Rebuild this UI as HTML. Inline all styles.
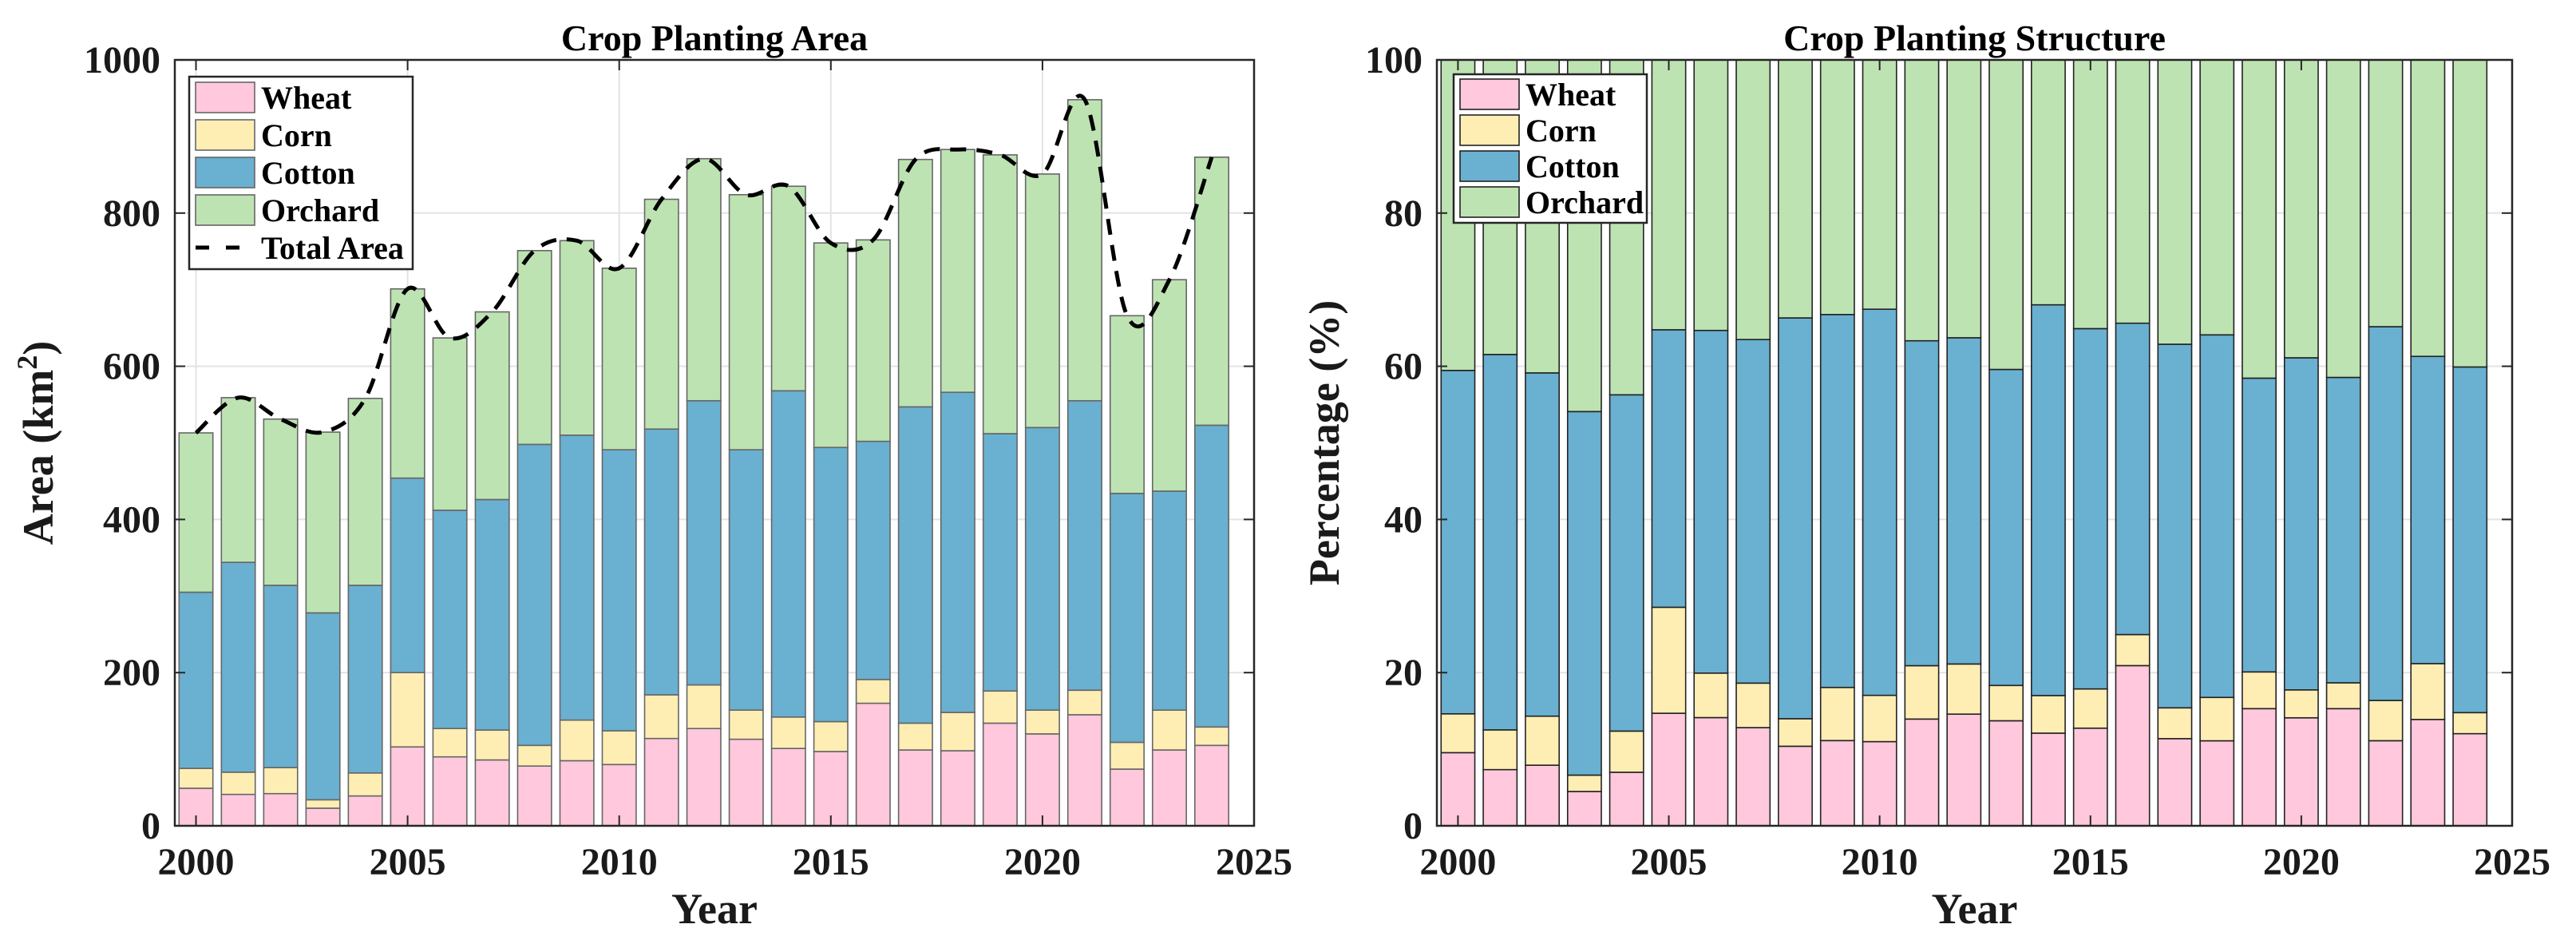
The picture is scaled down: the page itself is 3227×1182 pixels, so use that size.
<!DOCTYPE html>
<html><head><meta charset="utf-8">
<style>
html,body{margin:0;padding:0;background:#fff;}
svg{display:block;font-family:"Liberation Serif",serif;font-weight:bold;}
</style></head>
<body>
<svg id="fig" width="3227" height="1182" viewBox="0 0 3227 1182" xmlns="http://www.w3.org/2000/svg"></svg>
<script>
const years = [2000,2001,2002,2003,2004,2005,2006,2007,2008,2009,2010,2011,2012,2013,2014,2015,2016,2017,2018,2019,2020,2021,2022,2023,2024];
const wheat = [49,41,42,23,39,103,90,86,78,85,80,114,127,113,101,97,160,99,98,134,120,145,74,99,105];
const corn = [26,29,34,11,30,97,37,39,27,53,44,57,57,38,41,39,31,35,50,42,31,32,35,52,24];
const cotton = [230,274,238,244,245,254,285,301,393,372,367,347,371,340,426,358,311,413,418,336,369,378,325,286,394];
const orchard = [208,215,217,236,244,247,225,245,253,254,237,300,316,333,267,267,263,323,317,364,331,393,232,276,350];
const yTicksArea = [0,200,400,600,800,1000];
const yTicksPct = [0,20,40,60,80,100];
const xTicks = [2000,2005,2010,2015,2020,2025];
const seriesNames = ['Wheat','Corn','Cotton','Orchard'];

const colors = ['#FFC8DC','#FFEEB4','#6AB0D0','#BEE3B3'];
const NS = 'http://www.w3.org/2000/svg';
const svg = document.getElementById('fig');
function mk(tag, attrs, parent){
  const e = document.createElementNS(NS, tag);
  for (const k in attrs) e.setAttribute(k, attrs[k]);
  (parent||svg).appendChild(e);
  return e;
}
function txt(s, attrs, parent){ const e = mk('text', attrs, parent); e.textContent = s; return e; }

function panel(cfg){
  const g = mk('g', {});
  
  
  const {L,R,T,B,ymax} = cfg;
  const x = v => L + (v - 1999.5) / (2025 - 1999.5) * (R - L);
  const y = v => B - v / ymax * (B - T);
  const bw = 0.8 * (x(1) - x(0));
  // grid
  const grid = mk('g', {}, g);
  
  
  xTicks.forEach(t => mk('line', {x1:x(t),x2:x(t),y1:T,y2:B,stroke:'#e3e3e3','stroke-width':2}, grid));
  cfg.yt.forEach(t => mk('line', {x1:L,x2:R,y1:y(t),y2:y(t),stroke:'#e3e3e3','stroke-width':2}, grid));
  // bars
  const data = cfg.data;
  years.forEach((yr, i) => {
    let base = 0;
    data.forEach((ser, s) => {
      const v = ser[i];
      const r = mk('rect', {x:x(yr)-bw/2, y:y(base+v), width:bw, height:y(base)-y(base+v), fill:colors[s], stroke:cfg.edge, 'stroke-width':1.6}, g);
      
      
      base += v;
    });
  });
  // total line
  if (cfg.total) {
    const pts = years.map((yr,i) => [x(yr), y(cfg.total[i])]);
    let d = 'M' + pts[0][0] + ',' + pts[0][1];
    for (let i = 0; i < pts.length - 1; i++) {
      const p0 = pts[Math.max(0,i-1)], p1 = pts[i], p2 = pts[i+1], p3 = pts[Math.min(pts.length-1,i+2)];
      const c1 = [p1[0]+(p2[0]-p0[0])/6, p1[1]+(p2[1]-p0[1])/6];
      const c2 = [p2[0]-(p3[0]-p1[0])/6, p2[1]-(p3[1]-p1[1])/6];
      d += ' C' + c1[0] + ',' + c1[1] + ' ' + c2[0] + ',' + c2[1] + ' ' + p2[0] + ',' + p2[1];
    }
    const pl = mk('path', {d:d, fill:'none', stroke:'#000', 'stroke-width':5, 'stroke-dasharray':'20 13'}, g);
    
    
  }
  // axes box
  const box = mk('rect', {x:L,y:T,width:R-L,height:B-T,fill:'none',stroke:'#262626','stroke-width':2.5}, g);
  
  
  const tl = 13;
  xTicks.forEach(t => {
    mk('line', {x1:x(t),x2:x(t),y1:B,y2:B-tl,stroke:'#262626','stroke-width':2}, g);
    mk('line', {x1:x(t),x2:x(t),y1:T,y2:T+tl,stroke:'#262626','stroke-width':2}, g);
    const lb = txt(String(t), {x:x(t), y:B+61, 'font-size':48, 'text-anchor':'middle', fill:'#1a1a1a'}, g);
    
    
  });
  cfg.yt.forEach(t => {
    mk('line', {x1:L,x2:L+tl,y1:y(t),y2:y(t),stroke:'#262626','stroke-width':2}, g);
    mk('line', {x1:R,x2:R-tl,y1:y(t),y2:y(t),stroke:'#262626','stroke-width':2}, g);
    const lb = txt(String(t), {x:L-18, y:y(t)+16, 'font-size':48, 'text-anchor':'end', fill:'#1a1a1a'}, g);
    
    
  });
  const ti = txt(cfg.title, {x:(L+R)/2, y:T-12, 'font-size':46, 'text-anchor':'middle', fill:'#000'}, g);
  
  
  const xl = txt('Year', {x:(L+R)/2, y:B+122, 'font-size':54, 'text-anchor':'middle', fill:'#1a1a1a'}, g);
  
  
  const yl = mk('text', {x:0, y:0, 'font-size':54, 'text-anchor':'middle', fill:'#1a1a1a', transform:'translate(' + cfg.ylx + ',' + ((T+B)/2) + ') rotate(-90)'}, g);
  
  
  yl.innerHTML = cfg.ylabel;
  // legend
  const lg = mk('g', {}, g);
  
  
  const lgc = cfg.legend;
  mk('rect', {x:lgc.x, y:lgc.y, width:lgc.w, height:lgc.h, fill:'#fff', stroke:'#262626', 'stroke-width':2.5}, lg);
  const names = cfg.total ? seriesNames.concat(['Total Area']) : seriesNames;
  names.forEach((n, i) => {
    const cy = lgc.y + lgc.first + i * lgc.step;
    const en = mk('g', {}, lg);
    
    
    if (i < 4) mk('rect', {x:lgc.x+8, y:cy-19, width:74, height:38, fill:colors[i], stroke:cfg.edge, 'stroke-width':1.6}, en);
    else mk('line', {x1:lgc.x+8, x2:lgc.x+82, y1:cy, y2:cy, stroke:'#000', 'stroke-width':5, 'stroke-dasharray':'17 21'}, en);
    txt(n, {x:lgc.x+90, y:cy+14, 'font-size':40, fill:'#000'}, en);
  });
}

const total = years.map((_, i) => wheat[i] + corn[i] + cotton[i] + orchard[i]);
const pct = [wheat, corn, cotton, orchard].map(s => s.map((v, i) => v / total[i] * 100));

panel({name:'area-chart', L:219, R:1571, T:75, B:1034, ymax:1000, yt:yTicksArea, edge:'#666',
  data:[wheat, corn, cotton, orchard], total:total, title:'Crop Planting Area',
  ylabel:'Area (km<tspan baseline-shift="super" font-size="36">2</tspan>)', ylx:66,
  legend:{x:237, y:96, w:280, h:241, first:26, step:47}});
panel({name:'structure-chart', L:1800, R:3147, T:75, B:1034, ymax:100, yt:yTicksPct, edge:'#222',
  data:pct, total:null, title:'Crop Planting Structure',
  ylabel:'Percentage (%)', ylx:1677,
  legend:{x:1821, y:93, w:242, h:186, first:25, step:45}});
</script>
</body></html>
